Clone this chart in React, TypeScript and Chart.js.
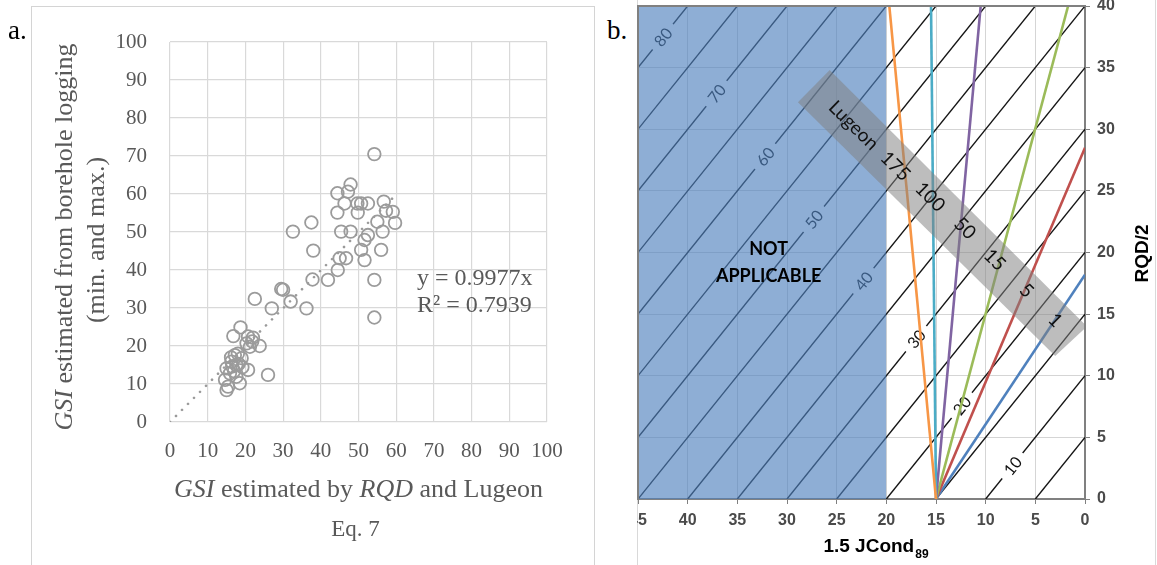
import React, { useEffect, useRef } from 'react';
import { Chart, registerables } from 'chart.js';

Chart.register(...registerables);

const SERIF = '"Liberation Serif", "Times New Roman", serif';
const SANS = '"Liberation Sans", Arial, sans-serif';
const CAL = 'Lato, "Open Sans", sans-serif';

// ---------------- Panel a data ----------------
const gsiByRqdLugeon = [
  54.2, 47.9, 47.2, 44.4, 46.3, 49.7, 50.7, 52.5, 56.7, 44.4, 49.8, 57.3, 59.1, 59.7, 55.0, 56.4,
  45.4, 47.9, 52.5, 51.6, 50.7, 56.0, 37.5, 38.0, 45.0, 46.7, 51.6, 44.5, 41.9, 37.8, 54.2, 54.2,
  32.6, 29.5, 30.0, 32.0, 22.5, 27.0, 36.2, 18.7, 16.8, 20.7, 22.0, 20.3, 23.8, 21.2, 17.2, 19.0,
  16.3, 17.6, 15.0, 20.7, 15.9, 17.6, 26.0, 14.6, 18.5, 15.4, 15.0, 16.5, 18.2, 17.0, 19.2, 16.2,
  18.0, 21.8,
];
const gsiFromBorehole = [
  70.5, 62.5, 60.6, 60.2, 57.5, 57.5, 57.5, 57.5, 58.0, 55.1, 55.1, 55.6, 55.3, 52.4, 52.7, 50.1,
  50.1, 50.1, 49.2, 47.9, 45.3, 45.3, 52.5, 45.1, 43.1, 43.1, 42.6, 40.0, 37.4, 37.5, 37.4, 27.5,
  50.1, 35.0, 34.8, 31.7, 32.4, 29.9, 29.9, 24.9, 22.6, 22.5, 22.2, 20.7, 20.0, 19.8, 17.6, 16.8,
  15.9, 15.0, 14.1, 13.7, 12.8, 11.9, 12.4, 11.1, 10.2, 9.3, 8.4, 14.6, 15.3, 13.4, 14.4, 17.0,
  18.0, 21.2,
];
const trendX = [0, 60];
const trendY = [0, 59.86];
const equationLines = ['y = 0.9977x', 'R\u00b2 = 0.7939'];

// ---------------- Panel b data ----------------
const gsiContours = [5, 10, 15, 20, 25, 30, 35, 40, 45, 50, 55, 60, 65, 70, 75, 80];
const contourLabelLevels = [80, 70, 60, 50, 40, 30, 20, 10];
const contourLabelJcond = [42.5, 37.1, 32.2, 27.3, 22.3, 17.0, 12.4, 7.3];
const notApplicableJcond = [45, 20];
const notApplicableRqd = [40, 40];
const lugeonValues = ['175', '100', '50', '15', '5', '1'];
const lugeonColors = ['#F79646', '#4BACC6', '#8064A2', '#9BBB59', '#C0504D', '#4F81BD'];
const lugeonOriginJcond = 15;
const lugeonOriginRqd = 0;
const lugeonEndJcond = [19.7, 15.5, 10.5, 1.7, 0, 0];
const lugeonEndRqd = [40, 40, 40, 40, 28.5, 18.2];
const lugeonTextJcond = [19.1, 15.6, 12.1, 9.1, 5.9, 3.0];
const lugeonTextRqd = [27.0, 24.5, 21.95, 19.4, 16.9, 14.5];
const lugeonTitleJcond = 23.3;
const lugeonTitleRqd = 30.3;
const bandJcond = [25.7, 28.9, 3.0, -0.2];
const bandRqd = [34.8, 32.2, 11.6, 14.0];
const notApplicableTextJcond = 31.85;
const notApplicableTextRqd = [20.3, 18.1];

type Part = [string, boolean];

function drawRich(ctx: CanvasRenderingContext2D, parts: Part[], x: number, y: number, size: number, color: string) {
  const fonts = parts.map(([, it]) => `${it ? 'italic ' : ''}${size}px ${SERIF}`);
  let total = 0;
  parts.forEach(([t], i) => {
    ctx.font = fonts[i];
    total += ctx.measureText(t).width;
  });
  let cx = x - total / 2;
  ctx.fillStyle = color;
  ctx.textAlign = 'left';
  ctx.textBaseline = 'middle';
  parts.forEach(([t], i) => {
    ctx.font = fonts[i];
    ctx.fillText(t, cx, y);
    cx += ctx.measureText(t).width;
  });
}

const panelAText = {
  id: 'panelAText',
  afterDraw(chart: any) {
    const ctx: CanvasRenderingContext2D = chart.ctx;
    const a = chart.chartArea;
    const cx = (a.left + a.right) / 2;
    ctx.save();
    drawRich(ctx, [['GSI', true], [' estimated by ', false], ['RQD', true], [' and Lugeon', false]], cx, a.bottom + 68, 26, '#595959');
    drawRich(ctx, [['Eq. 7', false]], cx - 3, a.bottom + 108, 23, '#595959');
    ctx.save();
    ctx.translate(a.left - 105, a.top + 195);
    ctx.rotate(-Math.PI / 2);
    drawRich(ctx, [['GSI', true], [' estimated from borehole logging', false]], 0, 0, 26, '#595959');
    ctx.restore();
    ctx.save();
    ctx.translate(a.left - 73, a.top + 198);
    ctx.rotate(-Math.PI / 2);
    drawRich(ctx, [['(min. and max.)', false]], 0, 0, 26, '#595959');
    ctx.restore();
    ctx.font = `24px ${SERIF}`;
    ctx.fillStyle = '#595959';
    ctx.textAlign = 'left';
    ctx.textBaseline = 'middle';
    const xs = chart.scales.x;
    const ys = chart.scales.y;
    ctx.fillText(equationLines[0], xs.getPixelForValue(65.5), ys.getPixelForValue(37.6));
    ctx.fillText(equationLines[1], xs.getPixelForValue(65.5), ys.getPixelForValue(30.5));
    ctx.restore();
  },
};

const panelBText = {
  id: 'panelBText',
  beforeDatasetDraw(chart: any, args: any) {
    const ds = chart.data.datasets[args.index];
    if (ds.label !== 'contour labels') return;
    const ctx: CanvasRenderingContext2D = chart.ctx;
    const xs = chart.scales.x;
    const ys = chart.scales.y;
    const dx = xs.getPixelForValue(0) - xs.getPixelForValue(1);
    const dy = ys.getPixelForValue(1) - ys.getPixelForValue(0);
    const ang = Math.atan2(dy, dx);
    ctx.save();
    ctx.font = `16px ${CAL}`;
    ctx.textAlign = 'center';
    ctx.textBaseline = 'middle';
    contourLabelLevels.forEach((lvl, i) => {
      const jx = contourLabelJcond[i];
      const px = xs.getPixelForValue(jx);
      const py = ys.getPixelForValue(lvl - jx);
      const t = String(lvl);
      const w = ctx.measureText(t).width;
      ctx.save();
      ctx.translate(px, py);
      ctx.rotate(ang);
      ctx.fillStyle = '#ffffff';
      ctx.fillRect(-w / 2 - 7, -8, w + 14, 16);
      ctx.fillStyle = '#111111';
      ctx.fillText(t, 0, 1);
      ctx.restore();
    });
    ctx.restore();
  },
  afterDraw(chart: any) {
    const ctx: CanvasRenderingContext2D = chart.ctx;
    const a = chart.chartArea;
    const xs = chart.scales.x;
    const ys = chart.scales.y;
    ctx.save();
    // plot frame top & left
    ctx.strokeStyle = '#808080';
    ctx.lineWidth = 2;
    ctx.beginPath();
    ctx.moveTo(a.left, a.bottom);
    ctx.lineTo(a.left, a.top);
    ctx.lineTo(a.right, a.top);
    ctx.stroke();

    // band text
    const bx1 = xs.getPixelForValue(bandJcond[1]);
    const by1 = ys.getPixelForValue(bandRqd[1]);
    const bx2 = xs.getPixelForValue(bandJcond[2]);
    const by2 = ys.getPixelForValue(bandRqd[2]);
    const bang = Math.atan2(by2 - by1, bx2 - bx1);
    ctx.fillStyle = '#111111';
    ctx.textAlign = 'center';
    ctx.textBaseline = 'middle';
    ctx.font = `19px ${CAL}`;
    const drawRot = (t: string, jx: number, ry: number) => {
      ctx.save();
      ctx.translate(xs.getPixelForValue(jx), ys.getPixelForValue(ry));
      ctx.rotate(bang);
      ctx.fillText(t, 0, 0);
      ctx.restore();
    };
    drawRot('Lugeon', lugeonTitleJcond, lugeonTitleRqd);
    lugeonValues.forEach((v, i) => drawRot(v, lugeonTextJcond[i], lugeonTextRqd[i]));

    // NOT APPLICABLE
    ctx.font = `bold 18px ${CAL}`;
    ctx.fillStyle = '#000000';
    ctx.fillText('NOT', xs.getPixelForValue(notApplicableTextJcond), ys.getPixelForValue(notApplicableTextRqd[0]));
    ctx.fillText('APPLICABLE', xs.getPixelForValue(notApplicableTextJcond), ys.getPixelForValue(notApplicableTextRqd[1]));

    // axis titles
    ctx.save();
    ctx.translate(a.right + 58, (a.top + a.bottom) / 2 + 1);
    ctx.rotate(-Math.PI / 2);
    ctx.font = `bold 19px ${SANS}`;
    ctx.fillText('RQD/2', 0, 0);
    ctx.restore();

    ctx.font = `bold 19px ${SANS}`;
    const main = '1.5 JCond';
    const mw = ctx.measureText(main).width;
    ctx.font = `bold 12px ${SANS}`;
    const sw = ctx.measureText('89').width;
    const startX = (a.left + a.right) / 2 + 14 - (mw + sw) / 2;
    ctx.textAlign = 'left';
    ctx.textBaseline = 'alphabetic';
    ctx.font = `bold 19px ${SANS}`;
    ctx.fillText(main, startX, a.bottom + 53);
    ctx.font = `bold 12px ${SANS}`;
    ctx.fillText('89', startX + mw + 1, a.bottom + 59);
    ctx.restore();
  },
};

export default function App() {
  const refA = useRef<HTMLCanvasElement>(null);
  const refB = useRef<HTMLCanvasElement>(null);

  useEffect(() => {
    if (!refA.current || !refB.current) return;

    const scatterPts = gsiByRqdLugeon.map((x, i) => ({ x, y: gsiFromBorehole[i] }));
    const trendPts = trendX.map((x, i) => ({ x, y: trendY[i] }));

    const chartA = new Chart(refA.current, {
      type: 'scatter',
      data: {
        datasets: [
          {
            label: 'GSI',
            data: scatterPts,
            pointRadius: 6.3,
            pointBorderWidth: 1.8,
            pointBorderColor: '#9b9b9b',
            pointBackgroundColor: 'rgba(0,0,0,0)',
            order: 1,
          } as any,
          {
            label: 'Trend',
            data: trendPts,
            showLine: true,
            borderColor: '#9a9a9a',
            borderWidth: 2.6,
            borderDash: [0.01, 8.5],
            borderCapStyle: 'round',
            pointRadius: 0,
            order: 2,
          } as any,
        ],
      },
      options: {
        responsive: false,
        animation: false,
        events: [],
        layout: { padding: { left: 0, top: 42, right: 47, bottom: 0 } },
        plugins: { legend: { display: false }, tooltip: { enabled: false } },
        scales: {
          x: {
            type: 'linear',
            min: 0,
            max: 100,
            ticks: { stepSize: 10, color: '#595959', font: { family: SERIF, size: 21 }, padding: 17 },
            grid: { color: '#d9d9d9', drawTicks: false, lineWidth: 1.2 },
            border: { display: false },
            afterFit: (s: any) => {
              s.height = 143;
              s.paddingLeft = 0;
              s.paddingRight = 0;
            },
          },
          y: {
            type: 'linear',
            min: 0,
            max: 100,
            ticks: { stepSize: 10, color: '#595959', font: { family: SERIF, size: 21 }, padding: 23 },
            grid: { color: '#d9d9d9', drawTicks: false, lineWidth: 1.2 },
            border: { display: false },
            afterFit: (s: any) => {
              s.width = 170;
              s.paddingTop = 0;
              s.paddingBottom = 0;
            },
          },
        },
      } as any,
      plugins: [panelAText],
    });

    const datasetsB: any[] = [];
    gsiContours.forEach((lvl) => {
      datasetsB.push({
        label: 'GSI ' + lvl,
        data: [
          { x: lvl, y: 0 },
          { x: 0, y: lvl },
        ],
        showLine: true,
        borderColor: '#151515',
        borderWidth: 1.4,
        pointRadius: 0,
        order: 6,
      });
    });
    datasetsB.push({
      label: 'contour labels',
      data: [],
      showLine: false,
      pointRadius: 0,
      order: 5,
    });
    datasetsB.push({
      label: 'NOT APPLICABLE',
      data: notApplicableJcond.map((x, i) => ({ x, y: notApplicableRqd[i] })),
      showLine: true,
      borderColor: 'rgba(0,0,0,0)',
      borderWidth: 0,
      backgroundColor: 'rgba(79,129,189,0.64)',
      fill: 'origin',
      pointRadius: 0,
      order: 4,
    });
    lugeonValues.forEach((v, i) => {
      datasetsB.push({
        label: 'Lugeon ' + v,
        data: [
          { x: lugeonOriginJcond, y: lugeonOriginRqd },
          { x: lugeonEndJcond[i], y: lugeonEndRqd[i] },
        ],
        showLine: true,
        borderColor: lugeonColors[i],
        borderWidth: 2.6,
        pointRadius: 0,
        order: 3,
      });
    });
    datasetsB.push({
      label: 'Lugeon band',
      data: bandJcond.map((x, i) => ({ x, y: bandRqd[i] })),
      showLine: true,
      borderColor: 'rgba(0,0,0,0)',
      borderWidth: 0,
      backgroundColor: 'rgba(128,128,128,0.52)',
      fill: 'shape',
      pointRadius: 0,
      order: 2,
    });

    const tickFontB = { family: SANS, size: 16, weight: 'bold' };
    const chartB = new Chart(refB.current, {
      type: 'scatter',
      data: { datasets: datasetsB },
      options: {
        responsive: false,
        animation: false,
        events: [],
        layout: { padding: { left: 1, top: 6, right: 0, bottom: 0 } },
        plugins: { legend: { display: false }, tooltip: { enabled: false } },
        scales: {
          x: {
            type: 'linear',
            reverse: true,
            min: 0,
            max: 45,
            z: 1,
            ticks: { stepSize: 5, color: '#4a4a4a', font: tickFontB, padding: 7 },
            grid: { color: 'rgba(185,185,185,0.6)', tickColor: '#808080', tickLength: 5 },
            border: { color: '#808080', width: 2 },
            afterFit: (s: any) => {
              s.height = 66;
              s.paddingLeft = 0;
              s.paddingRight = 0;
            },
          },
          y: {
            type: 'linear',
            position: 'right',
            min: 0,
            max: 40,
            z: 1,
            ticks: { stepSize: 5, color: '#4a4a4a', font: tickFontB, padding: 7 },
            grid: { color: 'rgba(185,185,185,0.6)', tickColor: '#808080', tickLength: 5 },
            border: { color: '#808080', width: 2 },
            afterFit: (s: any) => {
              s.width = 72;
              s.paddingTop = 0;
              s.paddingBottom = 0;
            },
          },
        },
      } as any,
      plugins: [panelBText],
    });

    return () => {
      chartA.destroy();
      chartB.destroy();
    };
  }, []);

  return (
    <div style={{ position: 'absolute', left: 0, top: 0, width: 1157, height: 565, overflow: 'hidden', background: '#ffffff' }}>
      <div
        style={{
          position: 'absolute',
          left: 31,
          top: 6,
          width: 564,
          height: 620,
          border: '1px solid #d4d4d4',
          boxSizing: 'border-box',
        }}
      />
      <div style={{ position: 'absolute', left: 637, top: 0, width: 1, height: 565, background: '#d9d9d9' }} />
      <div style={{ position: 'absolute', left: 1155, top: 0, width: 1, height: 565, background: '#d9d9d9' }} />
      <canvas ref={refA} width={594} height={565} style={{ position: 'absolute', left: 0, top: 0, width: 594, height: 565 }} />
      <canvas ref={refB} width={520} height={565} style={{ position: 'absolute', left: 637, top: 0, width: 520, height: 565 }} />
      <div style={{ position: 'absolute', left: 8, top: 17, fontFamily: SERIF, fontSize: 27, lineHeight: '27px', color: '#000' }}>a.</div>
      <div style={{ position: 'absolute', left: 607, top: 17, fontFamily: SERIF, fontSize: 27, lineHeight: '27px', color: '#000' }}>b.</div>
    </div>
  );
}
